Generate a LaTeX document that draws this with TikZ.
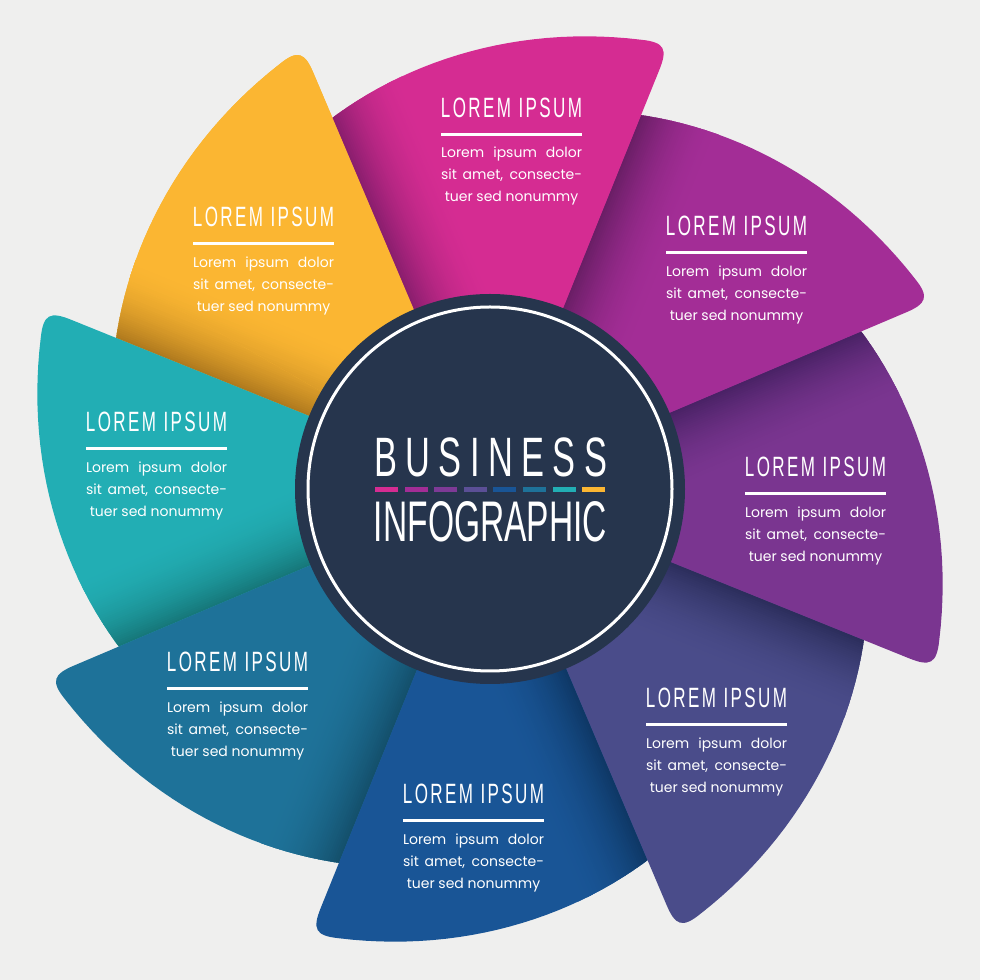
\documentclass[tikz,border=0pt]{standalone}
\usepackage{fontspec}
\usepackage{graphicx}
\setmainfont{Liberation Sans}
\newfontfamily\titlefont[FakeStretch=0.72,LetterSpace=10]{Liberation Sans}
\newfontfamily\bigfont[FakeStretch=0.62]{Liberation Sans}
\newfontfamily\bodyfont{Poppins}
\definecolor{bg}{HTML}{EFEFEE}
\definecolor{navy}{HTML}{26354D}
\definecolor{c1}{HTML}{D52C92}\definecolor{d1}{HTML}{8A1E6E}
\definecolor{c2}{HTML}{A32D96}\definecolor{d2}{HTML}{6A1E66}
\definecolor{c3}{HTML}{7A3590}\definecolor{d3}{HTML}{4A2266}
\definecolor{c4}{HTML}{4A4C8A}\definecolor{d4}{HTML}{2C2E5C}
\definecolor{c5}{HTML}{195596}\definecolor{d5}{HTML}{0E3866}
\definecolor{c6}{HTML}{1E7299}\definecolor{d6}{HTML}{14506C}
\definecolor{c7}{HTML}{22AEB4}\definecolor{d7}{HTML}{16787A}
\definecolor{c8}{HTML}{FBB632}\definecolor{d8}{HTML}{B07A1E}
\definecolor{m3}{HTML}{7E3A96}\definecolor{m4}{HTML}{5B4F96}
\def\petalpath{(0,0) -- (68:452) .. controls (68:474) and (68.6:480) .. (71.4:474) -- plot[domain=71.4:135,samples=40] (\x:{405+(112-\x)*1.7}) -- cycle}
\newcommand{\petal}[3]{%
 \begin{scope}[shift={(490,491)},rotate=#1]
  \fill[#2] \petalpath;
  \begin{scope}
   \clip \petalpath;
   \begin{scope}[rotate=113]
    \foreach \i in {0,...,39}{%
      \pgfmathtruncatemacro\p{100*(1-\i/40)*(1-\i/40)}%
      \fill[#3!\p!#2] (-10,{-\i*2}) rectangle (560,{-\i*2-2.6});
    }
   \end{scope}
  \end{scope}
 \end{scope}}
\tikzset{
 ttl/.style={text=white, inner sep=0pt},
 bodyl/.style={text=white, inner sep=0pt, anchor=base, font=\bodyfont\fontsize{14}{16}\selectfont},
 bigt/.style={text=white, inner sep=0pt, anchor=base}
}
\newcommand{\tblock}[3]{%
 \node[ttl] (#1t) at ({#2+70.5},{980-#3}) {\resizebox{141pt}{19.5pt}{\titlefont LOREM\hspace{0.32em}IPSUM}};
 \fill[white] (#2,{980-#3-25.5}) rectangle ({#2+141},{980-#3-28.5});
 \node[bodyl] (#1a) at ({#2+70.5},{980-#3-50.5}) {\makebox[141pt][s]{Lorem ipsum dolor}};
 \node[bodyl] (#1b) at ({#2+70.5},{980-#3-72.5}) {\makebox[141pt][s]{sit amet, consecte-}};
 \node[bodyl] (#1c) at ({#2+70.5},{980-#3-94.5}) {tuer sed nonummy};
}
\begin{document}
\begin{tikzpicture}[x=1pt,y=1pt]
\useasboundingbox (0,0) rectangle (980,980);
\fill[bg] (0,0) rectangle (980,980);
% petals, each on top of its clockwise neighbour
\petal{-315}{c8}{d8}
\petal{-270}{c7}{d7}
\petal{-225}{c6}{d6}
\petal{-180}{c5}{d5}
\petal{-135}{c4}{d4}
\petal{-90}{c3}{d3}
\petal{-45}{c2}{d2}
\petal{0}{c1}{d1}
\begin{scope}
 \clip[shift={(490,491)}] (0,0) -- (80:800) -- (115:900) -- (150:800) -- cycle;
 \petal{-315}{c8}{d8}
\end{scope}
% centre
\node[circle, fill=navy, minimum size=390pt, inner sep=0pt] (hub) at (490,491) {};
\draw[white, line width=3pt] (hub.center) circle (182);
\node[bigt] (bus) at (490.5,{980-477}) {\makebox[233pt][s]{\bigfont\fontsize{55.5}{60}\selectfont B\hfill U\hfill S\hfill I\hfill N\hfill E\hfill S\hfill S}};
\node[bigt] (info) at (490.5,{980-542}) {\resizebox{233pt}{40pt}{\bigfont INFOGRAPHIC}};
\foreach \k/\c in {0/c1,1/c2,2/m3,3/m4,4/c5,5/c6,6/c7,7/c8}{
  \fill[\c] ({375+\k*29.6},{980-492.5}) rectangle ++(23,5);
}
% text blocks
\tblock{p1}{441}{107.5}
\tblock{p2}{666}{226}
\tblock{p3}{745}{467}
\tblock{p4}{646}{698}
\tblock{p5}{403}{794}
\tblock{p6}{167}{662}
\tblock{p7}{86}{422}
\tblock{p8}{193}{217}
\end{tikzpicture}
\end{document}
